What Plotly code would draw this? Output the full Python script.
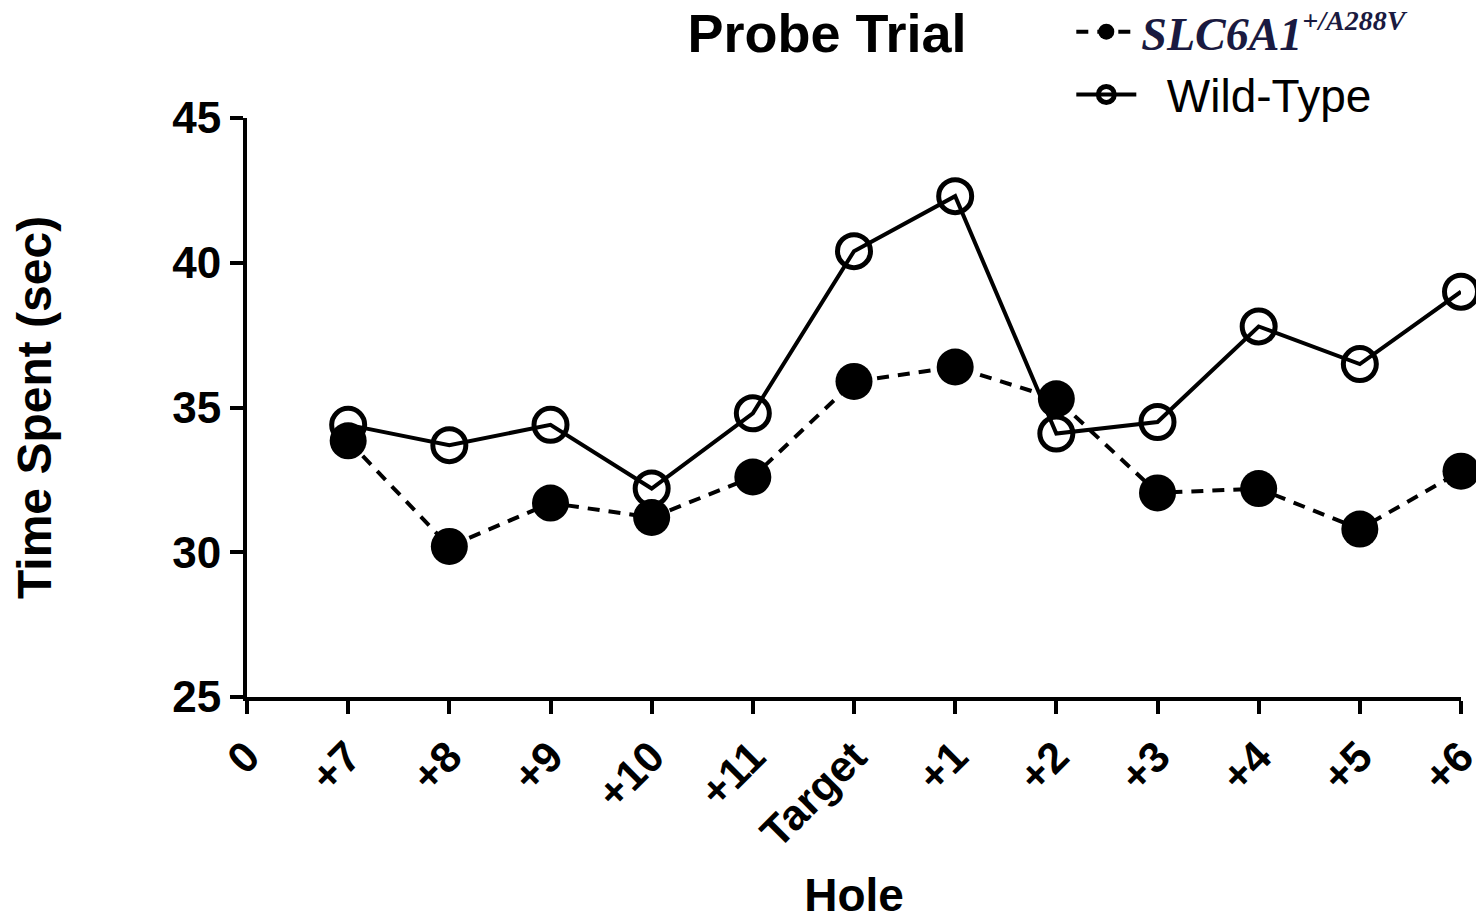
import plotly.graph_objects as go

# x positions of holes along the axis (0 is the axis origin)
hole_pos = [1, 2, 3, 4, 5, 6, 7, 8, 9, 10, 11, 12]
tick_pos = [0, 1, 2, 3, 4, 5, 6, 7, 8, 9, 10, 11, 12]
tick_labels = ["0", "+7", "+8", "+9", "+10", "+11", "Target", "+1", "+2", "+3", "+4", "+5", "+6"]

wild_type = [34.4, 33.7, 34.4, 32.2, 34.8, 40.4, 42.3, 34.1, 34.5, 37.8, 36.5, 39.0]
slc6a1 = [33.85, 30.2, 31.7, 31.2, 32.6, 35.9, 36.4, 35.3, 32.05, 32.2, 30.8, 32.8]

FONT = "Arial, Liberation Sans, sans-serif"

fig = go.Figure()

# wild-type first so the filled markers sit on top
fig.add_trace(go.Scatter(
    x=hole_pos, y=wild_type, name="\u00a0\u00a0Wild-Type", mode="lines+markers",
    line=dict(color="black", width=4),
    marker=dict(symbol="circle-open", size=33, color="black", line=dict(width=5, color="black")),
    cliponaxis=False))

fig.add_trace(go.Scatter(
    x=hole_pos, y=slc6a1, mode="lines+markers",
    name="<span style='font-family:Liberation Serif, Times New Roman, serif;color:#1a1a40'>"
         "<b><i>SLC6A1</i></b><sup><b><i><span style='font-size:28px'>+/A288V</span></i></b></sup></span>",
    line=dict(color="black", width=4, dash="12px,9px"),
    marker=dict(symbol="circle", size=37, color="black"),
    cliponaxis=False))

fig.update_layout(
    width=1484, height=916,
    margin=dict(l=239, r=31, t=110, b=227, autoexpand=False),
    plot_bgcolor="white", paper_bgcolor="white",
    font=dict(family=FONT, color="black"),
    title=dict(text="<b>Probe Trial</b>", font=dict(size=54, family=FONT),
               x=819 / 1484, xref="container", xanchor="center",
               y=1 - 25 / 916, yref="container", yanchor="middle"),
    legend=dict(x=0.679, y=1.212, xanchor="left", yanchor="top",
                traceorder="reversed", itemwidth=60,
                font=dict(size=46, family=FONT, color="black"),
                bgcolor="rgba(0,0,0,0)"),
    xaxis=dict(range=[0, 12], tickvals=tick_pos, ticktext=tick_labels,
               tickangle=-45, showgrid=False, zeroline=False, automargin=False,
               showline=True, linecolor="black", linewidth=4,
               ticks="outside", ticklen=13, tickwidth=4, tickcolor="black",
               tickfont=dict(size=43, family=FONT, weight="bold"),
               title=dict(text="<b>Hole</b>", font=dict(size=46, family=FONT), standoff=24)),
    yaxis=dict(range=[25, 45], tickvals=[25, 30, 35, 40, 45],
               showgrid=False, zeroline=False, automargin=False,
               showline=True, linecolor="black", linewidth=4,
               ticks="outside", ticklen=13, tickwidth=4, tickcolor="black",
               tickfont=dict(size=44, family=FONT, weight="bold"),
               title=dict(text="<b>Time Spent (sec)</b>", font=dict(size=48, family=FONT), standoff=110)),
)

fig.write_html("out.html")
